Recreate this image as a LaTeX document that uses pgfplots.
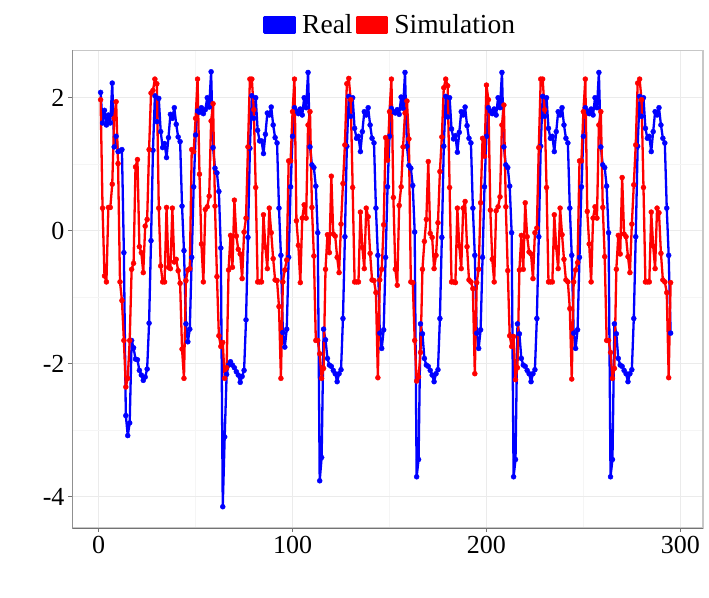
\documentclass[border=0pt]{standalone}
\usepackage{pgfplots}
\pgfplotsset{compat=1.18}
\usepackage{pgfplotstable}
\usepackage{fontspec}
\setmainfont{Liberation Serif}
\definecolor{realc}{RGB}{0,0,255}
\definecolor{simc}{RGB}{255,0,0}
\pgfplotstableread{
x r s
1 2.08 1.97
2 1.62 0.34
3 1.81 -0.68
4 1.59 -0.77
5 1.74 0.35
6 1.62 0.35
7 2.22 0.70
8 1.26 1.69
9 1.42 1.94
10 1.19 1.01
11 1.20 -0.77
12 1.22 -1.05
13 -0.33 -1.65
14 -2.78 -2.35
15 -3.08 -2.22
16 -2.89 -1.65
17 -1.65 -0.58
18 -1.76 -0.49
19 -1.93 0.96
20 -1.94 1.07
21 -2.10 -0.24
22 -2.17 -0.33
23 -2.25 -0.63
24 -2.20 0.07
25 -2.08 0.17
26 -1.39 1.22
27 -0.15 2.07
28 1.21 2.11
29 2.03 2.28
30 1.64 2.21
31 1.99 0.34
32 1.49 -0.53
33 1.25 -0.77
34 1.31 -0.77
35 1.10 0.35
36 1.40 -0.55
37 1.75 -0.57
38 1.69 0.34
39 1.85 -0.47
40 1.60 -0.43
41 1.41 -0.60
42 1.34 -0.79
43 0.37 -1.78
44 -0.30 -2.22
45 -1.40 -0.75
46 -1.67 -0.59
47 -1.48 -0.57
48 -0.40 1.22
49 0.66 1.19
50 1.44 1.69
51 1.80 2.28
52 1.78 0.85
53 1.85 -0.20
54 1.76 -0.77
55 1.82 0.32
56 2.00 0.36
57 1.86 0.52
58 2.39 1.65
59 1.25 1.91
60 0.94 0.37
61 0.87 -0.69
62 0.59 -1.58
63 -0.26 -1.74
64 -4.15 -1.68
65 -3.10 -2.22
66 -2.16 -2.06
67 -2.02 -0.59
68 -1.97 -0.07
69 -2.02 -0.55
70 -2.06 0.46
71 -2.12 -0.08
72 -2.17 -0.28
73 -2.28 -0.35
74 -2.19 -0.72
75 -2.10 -0.02
76 -1.34 0.19
77 -0.10 1.26
78 1.24 2.28
79 2.03 2.28
80 1.69 1.82
81 2.00 0.65
82 1.51 -0.77
83 1.35 -0.77
84 1.35 -0.77
85 1.16 0.24
86 1.45 -0.25
87 1.77 -0.57
88 1.74 0.34
89 1.86 -0.03
90 1.59 -0.42
91 1.40 -0.74
92 1.32 -0.75
93 0.34 -1.14
94 -0.37 -2.22
95 -1.53 -0.77
96 -1.75 -0.59
97 -1.48 -0.44
98 -0.40 1.05
99 0.66 1.05
100 1.42 1.79
101 1.85 2.28
102 1.80 0.15
103 1.76 -0.22
104 1.83 -0.78
105 1.74 0.19
106 2.00 0.39
107 1.85 0.19
108 2.38 1.59
109 1.26 1.79
110 0.99 0.35
111 0.95 -0.38
112 0.67 -1.65
113 -0.03 -1.65
114 -3.76 -1.85
115 -3.41 -2.22
116 -1.48 -2.07
117 -1.64 -0.58
118 -1.92 -0.06
119 -2.02 -0.33
120 -2.04 0.82
121 -2.10 -0.05
122 -2.15 -0.08
123 -2.27 -0.40
124 -2.15 -0.63
125 -2.09 0.10
126 -1.32 0.71
127 -0.09 1.29
128 1.27 2.21
129 2.02 2.29
130 1.72 1.97
131 2.00 0.65
132 1.54 -0.77
133 1.39 -0.77
134 1.42 -0.77
135 1.19 0.28
136 1.49 -0.25
137 1.79 -0.57
138 1.74 0.34
139 1.85 0.21
140 1.59 -0.34
141 1.39 -0.74
142 1.32 -0.75
143 0.34 -0.93
144 -0.37 -2.21
145 -1.54 -0.74
146 -1.77 -0.58
147 -1.49 0.09
148 -0.40 1.40
149 0.66 1.06
150 1.42 1.79
151 1.84 2.28
152 1.79 0.50
153 1.77 -0.58
154 1.82 -0.82
155 1.75 0.38
156 2.01 0.66
157 1.84 1.26
158 2.38 1.77
159 1.27 1.95
160 0.98 1.38
161 0.94 -0.77
162 0.68 -0.78
163 -0.02 -1.65
164 -3.70 -2.26
165 -3.44 -2.20
166 -1.40 -1.83
167 -1.55 -0.58
168 -1.92 -0.16
169 -2.02 0.17
170 -2.04 1.04
171 -2.10 -0.04
172 -2.17 -0.10
173 -2.27 -0.57
174 -2.15 -0.37
175 -2.09 0.12
176 -1.32 0.89
177 -0.10 1.41
178 1.27 2.15
179 2.02 2.28
180 1.71 2.18
181 2.00 0.65
182 1.53 -0.77
183 1.38 -0.77
184 1.43 -0.78
185 1.18 0.34
186 1.48 -0.23
187 1.79 -0.57
188 1.74 0.34
189 1.86 0.44
190 1.58 -0.24
191 1.39 -0.74
192 1.32 -0.77
193 0.34 -0.87
194 -0.37 -2.15
195 -1.54 -0.78
196 -1.77 -0.58
197 -1.49 0.42
198 -0.40 1.39
199 0.66 1.12
200 1.42 2.19
201 1.85 1.97
202 1.80 0.31
203 1.76 -0.43
204 1.83 -0.77
205 1.74 0.30
206 2.00 0.36
207 1.85 0.51
208 2.38 1.59
209 1.26 1.89
210 0.99 0.36
211 0.95 -0.60
212 0.67 -1.58
213 -0.03 -1.74
214 -3.70 -1.59
215 -3.44 -2.24
216 -1.40 -2.06
217 -1.55 -0.59
218 -1.92 -0.07
219 -2.02 -0.58
220 -2.04 0.42
221 -2.10 -0.09
222 -2.15 -0.32
223 -2.27 -0.35
224 -2.15 -0.72
225 -2.09 -0.03
226 -1.32 0.04
227 -0.09 1.25
228 1.27 2.28
229 2.02 2.28
230 1.72 1.82
231 2.00 0.65
232 1.54 -0.77
233 1.39 -0.77
234 1.42 -0.77
235 1.19 0.24
236 1.49 -0.25
237 1.79 -0.57
238 1.74 0.34
239 1.85 -0.06
240 1.59 -0.43
241 1.39 -0.74
242 1.32 -0.77
243 0.34 -1.17
244 -0.37 -2.23
245 -1.54 -0.77
246 -1.77 -0.59
247 -1.49 -0.48
248 -0.40 1.05
249 0.66 1.05
250 1.42 1.79
251 1.85 2.28
252 1.80 0.29
253 1.76 -0.20
254 1.83 -0.77
255 1.74 0.19
256 2.00 0.36
257 1.85 0.19
258 2.38 1.59
259 1.26 1.79
260 0.99 0.35
261 0.95 -0.39
262 0.67 -1.65
263 -0.03 -1.65
264 -3.70 -1.83
265 -3.44 -2.22
266 -1.40 -2.07
267 -1.55 -0.58
268 -1.92 -0.07
269 -2.02 -0.35
270 -2.04 0.80
271 -2.10 -0.05
272 -2.15 -0.09
273 -2.27 -0.39
274 -2.15 -0.63
275 -2.09 0.10
276 -1.32 0.69
277 -0.09 1.29
278 1.27 2.22
279 2.02 2.28
280 1.72 1.97
281 2.00 0.65
282 1.54 -0.77
283 1.39 -0.77
284 1.42 -0.77
285 1.19 0.28
286 1.49 -0.23
287 1.79 -0.57
288 1.74 0.34
289 1.85 0.27
290 1.59 -0.34
291 1.39 -0.74
292 1.32 -0.77
293 0.34 -0.93
294 -0.37 -2.21
295 -1.54 -0.78
}\data
\begin{document}
\begin{tikzpicture}
\useasboundingbox (-72.5pt,-69pt) rectangle (636.5pt,528pt);
\begin{axis}[
  scale only axis,
  width=630.5pt, height=477.5pt,
  xmin=-13.5, xmax=311.7,
  ymin=-4.47, ymax=2.71,
  xtick={0,100,200,300},
  xticklabels={0,100,200,300},
  ytick={-4,-2,0,2},
  yticklabels={-4,-2,0,2},
  minor xtick={50,150,250},
  minor ytick={-3,-1,1},
  grid=both,
  major grid style={color=black!8, line width=0.7pt},
  minor grid style={color=black!4, line width=0.6pt},
  tick align=outside,
  xtick pos=bottom, ytick pos=left,
  major tick length=4pt,
  minor tick length=0pt,
  tick style={color=black!55, line width=0.8pt},
  axis line style={color=black!22, line width=1.2pt},
  ticklabel style={font=\fontsize{26}{31}\selectfont, text=black},
  xticklabel style={yshift=-1pt},
  yticklabel style={xshift=-0.5pt},
  legend style={at={(0.5,1)}, anchor=center, xshift=3pt, yshift=25.5pt,
    draw=none, fill=none, font=\fontsize{27.5}{32}\selectfont,
    nodes={inner sep=3pt}},
  legend columns=2,
  legend cell align=left,
]
\draw[black!55, line width=1pt] (rel axis cs:0,1) -- (rel axis cs:0,0) -- (rel axis cs:1,0);
\addplot[realc, line width=2.3pt, line join=round, line cap=round, no marks,
  legend image code/.code={\fill[realc] (0pt,-7.5pt) rectangle (30.5pt,7.5pt);}]
  table[x=x, y=r] {\data};
\addlegendentry{\hspace{3pt}Real}
\addplot[simc, line width=2.3pt, line join=round, line cap=round, no marks,
  legend image code/.code={\fill[simc] (0pt,-7.5pt) rectangle (30.5pt,7.5pt);}]
  table[x=x, y=s] {\data};
\addlegendentry{\hspace{3pt}Simulation}
\addplot[forget plot, only marks, mark=*, mark size=2.5pt, mark options={draw=realc, fill=realc}]
  table[x=x, y=r] {\data};
\addplot[forget plot, only marks, mark=*, mark size=2.5pt, mark options={draw=simc, fill=simc}]
  table[x=x, y=s] {\data};
\end{axis}
\end{tikzpicture}
\end{document}
